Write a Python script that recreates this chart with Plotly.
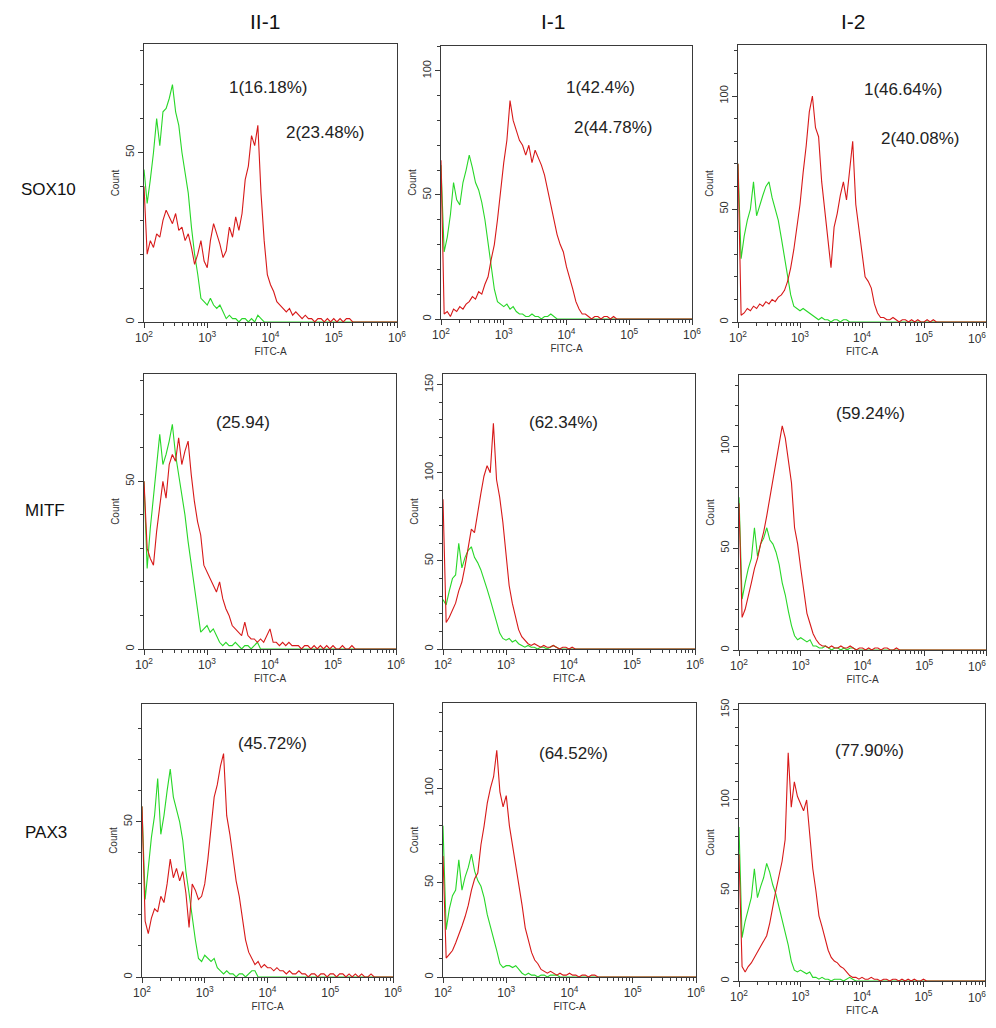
import plotly.graph_objects as go

# ---------------- data ----------------
col_titles = ["II-1", "I-1", "I-2"]
row_titles = ["SOX10", "MITF", "PAX3"]

# histogram channel positions, log10(FITC-A), step 0.05 from 10^2 to 10^6
bin_log = [2 + 0.05 * i for i in range(81)]
x_tick_vals = [1e2, 1e3, 1e4, 1e5, 1e6]
x_tick_text = ["10<sup>2</sup>", "10<sup>3</sup>", "10<sup>4</sup>", "10<sup>5</sup>", "10<sup>6</sup>"]

# SOX10
sox10_ii1_green = [45, 35, 42, 50, 60, 52, 62, 63, 66, 70, 62, 58, 50, 44, 38, 28, 20, 14, 7, 6,
                   5, 7, 5, 4, 5, 3, 1, 2, 1, 1, 0, 1, 1, 0, 1, 0, 2, 1, 0]
sox10_ii1_red = [40, 20, 24, 22, 26, 25, 30, 33, 31, 29, 32, 27, 28, 24, 26, 22, 17, 20, 24, 18,
                 16, 24, 29, 26, 23, 19, 21, 28, 25, 31, 27, 32, 42, 46, 55, 52, 58, 38, 24, 14,
                 11, 9, 6, 5, 4, 3, 4, 2, 3, 2, 1, 2, 1, 1, 0, 1, 1, 0, 1, 0,
                 1, 0, 1, 0, 1, 1, 0]
sox10_i1_green = [62, 27, 33, 42, 55, 48, 46, 55, 60, 66, 61, 55, 52, 47, 40, 30, 22, 12, 7, 6,
                  5, 6, 4, 5, 3, 2, 2, 1, 1, 2, 1, 1, 0, 1, 1, 2, 1, 0]
sox10_i1_red = [64, 2, 3, 1, 4, 3, 5, 4, 6, 7, 9, 8, 11, 10, 14, 17, 24, 30, 40, 52,
                63, 72, 88, 80, 76, 72, 70, 66, 70, 63, 68, 65, 62, 58, 52, 45, 40, 34, 30, 27,
                21, 17, 12, 7, 4, 2, 2, 1, 0, 1, 1, 0, 1, 1, 0, 1, 0]
sox10_i2_green = [70, 28, 38, 45, 50, 62, 47, 52, 56, 60, 62, 55, 50, 45, 37, 28, 20, 12, 7, 6,
                  5, 6, 5, 4, 3, 2, 1, 2, 1, 1, 0, 1, 1, 0, 1, 1, 0]
sox10_i2_red = [70, 3, 4, 6, 5, 7, 6, 8, 7, 9, 8, 10, 9, 11, 12, 14, 18, 24, 32, 42,
                52, 66, 78, 93, 100, 86, 82, 62, 50, 38, 24, 42, 48, 56, 62, 54, 66, 80, 52, 42,
                30, 20, 18, 15, 8, 4, 2, 2, 1, 1, 2, 1, 0, 1, 1, 0, 1, 0, 1, 0,
                0, 1, 0, 1]

# MITF
mitf_ii1_green = [50, 24, 36, 45, 56, 64, 55, 58, 62, 67, 58, 52, 47, 40, 32, 25, 18, 11, 5, 6,
                  7, 5, 6, 4, 2, 1, 2, 1, 1, 2, 1, 0, 1, 1, 0, 1, 2, 0]
mitf_ii1_red = [50, 30, 27, 25, 35, 42, 50, 45, 55, 58, 56, 63, 55, 59, 62, 52, 44, 38, 34, 25,
                23, 21, 19, 17, 20, 15, 12, 10, 7, 6, 5, 4, 8, 4, 3, 3, 2, 3, 2, 4,
                6, 2, 2, 1, 2, 1, 2, 1, 1, 1, 0, 1, 1, 0, 1, 0, 1, 0, 1, 0,
                1, 0, 0, 1, 0, 0, 1]
mitf_i1_green = [28, 25, 33, 40, 42, 60, 46, 52, 56, 58, 52, 49, 45, 40, 34, 28, 22, 15, 9, 6,
                 5, 6, 4, 5, 3, 2, 1, 2, 1, 1, 0, 1, 1, 0, 1, 2, 1, 0]
mitf_i1_red = [85, 15, 18, 22, 26, 33, 38, 47, 58, 68, 66, 78, 88, 98, 104, 100, 128, 96, 86, 72,
               52, 36, 26, 18, 11, 7, 5, 3, 2, 3, 2, 1, 2, 1, 1, 2, 1, 0, 1, 1,
               0, 1]
mitf_i2_green = [75, 25, 33, 40, 45, 60, 46, 52, 55, 60, 54, 52, 48, 42, 33, 27, 19, 12, 7, 5,
                 6, 5, 4, 5, 2, 2, 1, 1, 2, 1, 0, 1, 1, 0, 1, 0, 1, 1, 0]
mitf_i2_red = [72, 16, 20, 26, 33, 40, 45, 52, 58, 66, 75, 84, 92, 102, 110, 104, 94, 82, 60, 52,
               40, 28, 18, 13, 8, 5, 3, 2, 2, 1, 2, 1, 1, 2, 1, 1, 2, 1, 0, 1,
               1, 0, 1, 0, 1, 1, 0, 1, 1, 0, 0, 1]

# PAX3
pax3_ii1_green = [55, 25, 35, 45, 52, 64, 46, 52, 60, 67, 58, 54, 50, 44, 34, 27, 19, 12, 6, 5,
                  7, 6, 5, 6, 3, 2, 1, 2, 1, 1, 0, 1, 1, 0, 1, 2, 2, 0]
pax3_ii1_red = [55, 18, 14, 19, 22, 21, 26, 24, 30, 38, 32, 35, 31, 34, 27, 16, 30, 28, 25, 26,
                30, 38, 48, 58, 62, 68, 72, 52, 46, 38, 31, 26, 19, 12, 8, 6, 4, 5, 3, 4,
                3, 3, 2, 3, 2, 2, 1, 2, 1, 1, 2, 1, 1, 0, 1, 1, 0, 1, 1, 0,
                1, 1, 0, 1, 1, 0, 1, 0, 1, 0, 1, 0, 0, 1]
pax3_i1_green = [80, 25, 36, 43, 46, 62, 46, 53, 58, 65, 56, 51, 48, 42, 33, 27, 21, 14, 7, 5,
                 6, 6, 5, 6, 4, 2, 1, 2, 1, 1, 0, 1, 1, 0, 1, 1, 1, 0]
pax3_i1_red = [64, 10, 12, 14, 18, 22, 27, 32, 38, 46, 52, 55, 70, 80, 92, 100, 106, 120, 98, 90,
               96, 80, 70, 60, 50, 38, 26, 20, 13, 9, 7, 4, 3, 2, 3, 2, 1, 2, 1, 1,
               2, 1, 1, 0, 1, 1, 0, 1, 1, 0]
pax3_i2_green = [85, 24, 33, 40, 46, 62, 46, 52, 57, 65, 60, 53, 48, 41, 34, 27, 20, 11, 6, 5,
                 6, 5, 4, 5, 2, 2, 1, 2, 1, 1, 0, 1, 1, 1, 0, 1, 2, 1, 0]
pax3_i2_red = [70, 8, 5, 8, 10, 13, 16, 19, 22, 25, 32, 42, 50, 58, 66, 78, 126, 96, 110, 102,
               98, 94, 100, 82, 62, 50, 36, 30, 24, 17, 13, 11, 10, 8, 7, 5, 3, 2, 2, 1,
               2, 1, 1, 2, 1, 1, 0, 1, 1, 0, 1, 1, 0, 1, 0, 1, 0, 1, 0, 0,
               1]

y_max = [[82, 110, 122.6], [82, 156, 135], [88, 145, 153]]

labels = [
    [["1(16.18%)", "2(23.48%)"], ["1(42.4%)", "2(44.78%)"], ["1(46.64%)", "2(40.08%)"]],
    [["(25.94)"], ["(62.34%)"], ["(59.24%)"]],
    [["(45.72%)"], ["(64.52%)"], ["(77.90%)"]],
]

green = [[sox10_ii1_green, sox10_i1_green, sox10_i2_green],
         [mitf_ii1_green, mitf_i1_green, mitf_i2_green],
         [pax3_ii1_green, pax3_i1_green, pax3_i2_green]]
red = [[sox10_ii1_red, sox10_i1_red, sox10_i2_red],
       [mitf_ii1_red, mitf_i1_red, mitf_i2_red],
       [pax3_ii1_red, pax3_i1_red, pax3_i2_red]]

# ---------------- layout geometry (screen pixels) ----------------
OFF = 8                      # page body margin
W, H = 996 - 2 * OFF, 1028 - 2 * OFF
boxes = [
    [(144, 397, 44, 322), (441, 692, 46, 319), (738, 986, 45, 322)],
    [(144, 396, 374, 649), (443, 695, 374, 649), (739, 986, 375, 650)],
    [(142, 393, 704, 977), (443, 696, 703, 977), (739, 985, 704, 981)],
]
label_pos = [
    [[(268, 88), (325, 133)], [(600, 88), (613, 128)], [(903, 90), (920, 138)]],
    [[(243, 423)], [(563, 422)], [(870, 413)]],
    [[(272, 743)], [(573, 753)], [(869, 750)]],
]
col_title_pos = [(265, 21), (553, 21), (853, 21)]
row_title_pos = [(48, 190), (45, 510), (46, 832)]

GREEN = "rgb(40,215,40)"
RED = "rgb(215,25,25)"
AX = "#3a3a3a"
FONT = "Liberation Sans, Arial, sans-serif"
TICK_SIZE = 12

def px_x(p):
    return (p - OFF) / W

def px_y(p):
    return 1 - (p - OFF) / H

fig = go.Figure()
layout = dict(width=W, height=H, margin=dict(l=0, r=0, t=0, b=0, autoexpand=False),
              paper_bgcolor="white", plot_bgcolor="white", showlegend=False,
              font=dict(family=FONT, color="#222"))
annotations = []

def pad(v):
    return v + [0] * (len(bin_log) - len(v))

xs = [10 ** b for b in bin_log]
k = 0
for r in range(3):
    for c in range(3):
        k += 1
        sx = "" if k == 1 else str(k)
        x0, x1, y0, y1 = boxes[r][c]
        fig.add_trace(go.Scatter(x=xs, y=pad(green[r][c]), mode="lines",
                                 line=dict(color=GREEN, width=1.1), xaxis="x" + sx, yaxis="y" + sx))
        fig.add_trace(go.Scatter(x=xs, y=pad(red[r][c]), mode="lines",
                                 line=dict(color=RED, width=1.1), xaxis="x" + sx, yaxis="y" + sx))
        ttext = list(x_tick_text)
        if c == 2:
            # last label would run past the page edge: drawn right-aligned below
            ttext[-1] = ""
            annotations.append(dict(text=x_tick_text[-1], x=1.0, y=px_y(y1 + 6),
                                    xref="paper", yref="paper", showarrow=False,
                                    xanchor="right", yanchor="top",
                                    font=dict(size=TICK_SIZE, color="#333")))
        layout["xaxis" + sx] = dict(
            type="log", range=[2, 6], domain=[px_x(x0), px_x(x1)], anchor="y" + sx,
            automargin=False,
            showline=True, mirror=True, linecolor=AX, linewidth=1,
            ticks="outside", ticklen=5, tickcolor=AX,
            tickmode="array", tickvals=x_tick_vals, ticktext=ttext,
            tickfont=dict(size=TICK_SIZE, color="#333"), showgrid=False, zeroline=False,
            minor=dict(ticks="outside", ticklen=3, tickcolor=AX, dtick="D1", showgrid=False),
            title=dict(text="FITC-A", font=dict(size=10, color="#333"), standoff=3),
        )
        layout["yaxis" + sx] = dict(
            range=[0, y_max[r][c]], domain=[px_y(y1), px_y(y0)], anchor="x" + sx,
            automargin=False,
            showline=True, mirror=True, linecolor=AX, linewidth=1,
            ticks="outside", ticklen=5, tickcolor=AX, dtick=50, tickangle=-90,
            tickfont=dict(size=11, color="#333"), showgrid=False, zeroline=False,
            minor=dict(ticks="outside", ticklen=3, tickcolor=AX, dtick=10, showgrid=False),
            title=dict(text="Count", font=dict(size=10, color="#333"), standoff=2),
        )
        for txt, (lx, ly) in zip(labels[r][c], label_pos[r][c]):
            annotations.append(dict(text=txt, x=px_x(lx), y=px_y(ly), xref="paper", yref="paper",
                                    showarrow=False, font=dict(size=17, color="#222"),
                                    xanchor="center", yanchor="middle"))

for t, (lx, ly) in zip(col_titles, col_title_pos):
    annotations.append(dict(text=t, x=px_x(lx), y=px_y(ly), xref="paper", yref="paper",
                            showarrow=False, font=dict(size=21, color="#111"),
                            xanchor="center", yanchor="middle"))
for t, (lx, ly) in zip(row_titles, row_title_pos):
    annotations.append(dict(text=t, x=px_x(lx), y=px_y(ly), xref="paper", yref="paper",
                            showarrow=False, font=dict(size=17, color="#111"),
                            xanchor="center", yanchor="middle"))

layout["annotations"] = annotations
fig.update_layout(**layout)
fig.write_html("out.html")
